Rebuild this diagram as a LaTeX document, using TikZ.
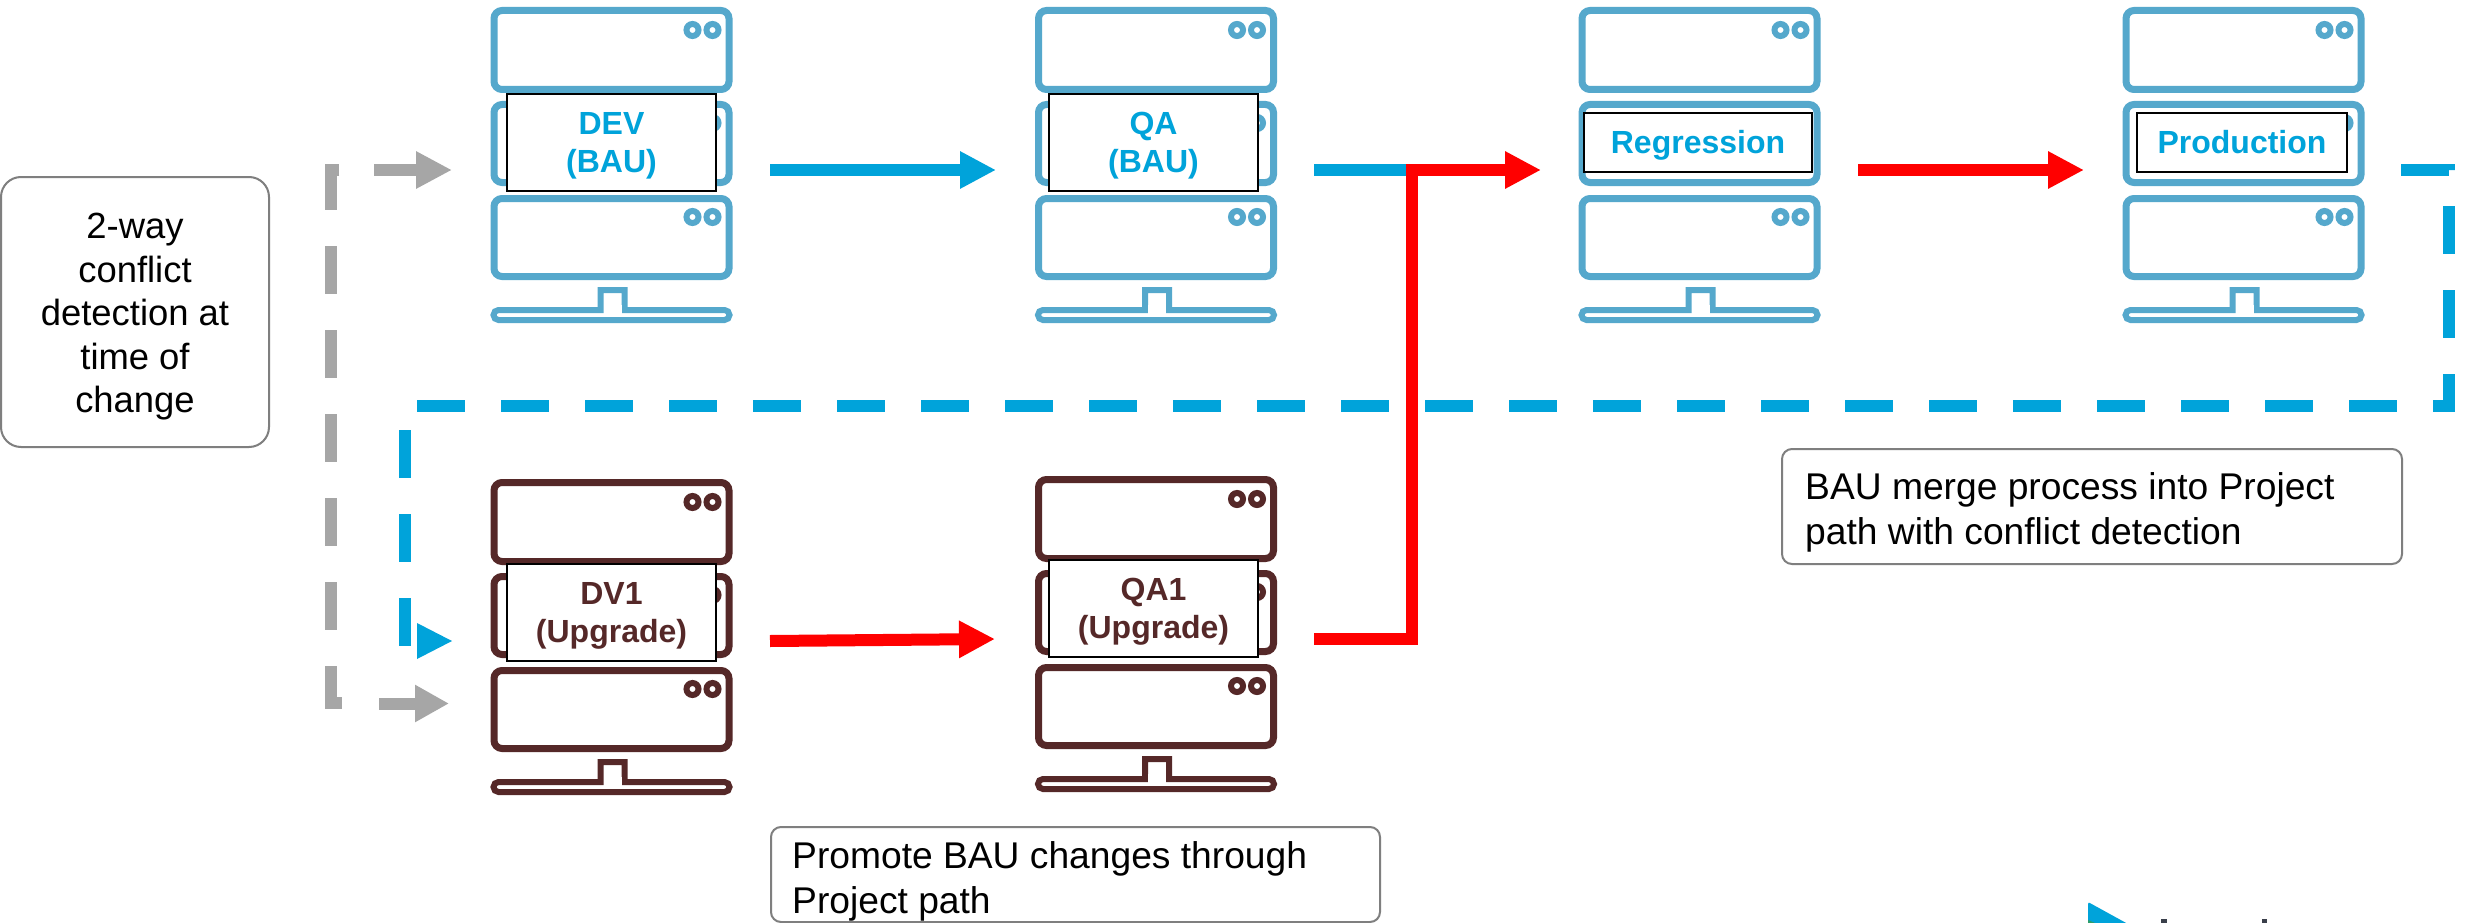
\documentclass[tikz,border=0pt]{standalone}
\usepackage{fontspec}
\setmainfont{Liberation Sans}
\usetikzlibrary{arrows.meta}
\definecolor{rackblue}{HTML}{55A8CC}
\definecolor{rackbrown}{HTML}{552828}
\definecolor{flowblue}{HTML}{00A3DA}
\definecolor{flowgray}{HTML}{A6A6A6}
\definecolor{boxgray}{HTML}{7F7F7F}
\definecolor{logogreen}{HTML}{2E9E6B}
\definecolor{logodark}{HTML}{3A3F4A}
\newcommand{\lift}{\rule{0pt}{28pt}}
\tikzset{
  x=1pt,y=-1pt,
  rackunit/.style={line width=7pt,rounded corners=8pt},
  rackdot/.style={line width=6pt},
  pics/rack/.style={code={
    \draw[#1,rackunit] (3.5,3.5) rectangle (238.5,82.5);
    \draw[#1,rackunit] (3.5,97.5) rectangle (238.5,175.5);
    \draw[#1,rackunit] (3.5,191.5) rectangle (238.5,269.5);
    \draw[#1,rackdot] (202,23) circle[radius=6pt] (222,23) circle[radius=6pt];
    \draw[#1,rackdot] (202,116) circle[radius=6pt] (222,116) circle[radius=6pt];
    \draw[#1,rackdot] (202,210) circle[radius=6pt] (222,210) circle[radius=6pt];
    \draw[#1,line width=6pt,rounded corners=5pt]
      (98,303) [sharp corners] -- (110,303) -- (110,283) -- (134,283) -- (134,303) -- (140,303)
      [rounded corners=5pt] -- (239,303) -- (239,313) -- (3,313) -- (3,303) -- (98,303);
    \fill[white] (113,298) rectangle (131,310);
  }},
  labelbox/.style={draw=black,line width=2pt,fill=white,inner sep=0pt,align=center,
    font=\fontsize{32}{38}\selectfont\bfseries},
  notebox/.style={draw=boxgray,line width=2pt,fill=white,rounded corners=10pt,inner sep=0pt},
  notetext/.style={font=\fontsize{37.2}{45}\selectfont,align=left,anchor=west,inner sep=0pt},
  flow/.style={line width=12pt,-{Triangle[length=36pt,width=35pt]}},
  plainflow/.style={line width=12pt},
  dashflow/.style={line width=12pt,dash pattern=on 48pt off 36pt},
}
\begin{document}
\begin{tikzpicture}
\useasboundingbox (0,0) rectangle (2478,923);
\fill[white] (0,0) rectangle (2478,923);

% racks
\pic at (490.5,7) {rack=rackblue};
\pic at (1035,7) {rack=rackblue};
\pic at (1578.5,7) {rack=rackblue};
\pic at (2122.5,7) {rack=rackblue};
\pic at (490.5,479) {rack=rackbrown};
\pic at (1035,476) {rack=rackbrown};

% labels
\node[labelbox,text=flowblue,minimum width=209pt,minimum height=97pt] (dev) at (611.5,142.5) {\lift DEV\\(BAU)};
\node[labelbox,text=flowblue,minimum width=209pt,minimum height=97pt] (qa) at (1153.5,142.5) {\lift QA\\(BAU)};
\node[labelbox,text=flowblue,minimum width=228pt,minimum height=59pt,text height=22pt,text depth=0pt] (reg) at (1698,142.5) {Regression};
\node[labelbox,text=flowblue,minimum width=210pt,minimum height=59pt,text height=22pt,text depth=0pt] (prod) at (2242,142.5) {Production};
\node[labelbox,text=rackbrown,minimum width=209pt,minimum height=97pt] (dv1) at (611.5,612.5) {\lift DV1\\(Upgrade)};
\node[labelbox,text=rackbrown,minimum width=209pt,minimum height=97pt] (qa1) at (1153.5,608.5) {\lift QA1\\(Upgrade)};

% connector ends
\coordinate (devout) at (770,170);
\coordinate (qain) at (996,170);
\coordinate (qaout) at (1314,170);
\coordinate (join) at (1412,170);
\coordinate (regin) at (1541,170);
\coordinate (regout) at (1858,170);
\coordinate (prodin) at (2084,170);
\coordinate (dv1out) at (770,641);
\coordinate (qa1in) at (995,639);
\coordinate (qa1out) at (1314,639);
\coordinate (corner) at (1412,639);
\coordinate (prodout) at (2401,170);
\coordinate (prodturn) at (2449,170);
\coordinate (backright) at (2449,405.5);
\coordinate (backleft) at (405,405.5);
\coordinate (backend) at (405,647);
\coordinate (graytop) at (339,170);
\coordinate (graytopturn) at (331,170);
\coordinate (graybotturn) at (331,703);
\coordinate (graybot) at (342,703);
\coordinate (graydevfrom) at (374,170);
\coordinate (graydevto) at (452,170);
\coordinate (graydvfrom) at (379,703.5);
\coordinate (graydvto) at (449,703.5);

% gray
\draw[flowgray,dashflow] (graytop) -- (graytopturn) -- (graybotturn) -- (graybot);
\draw[flowgray,flow] (graydevfrom) -- (graydevto);
\draw[flowgray,line width=12pt,-{Triangle[length=34pt,width=35pt]}] (graydvfrom) -- (graydvto);

% blue
\draw[flowblue,flow] (devout) -- (qain);
\draw[flowblue,plainflow] (qaout) -- (join);
\draw[flowblue,dashflow] (prodout) -- (prodturn) -- (backright) -- (backleft) -- (backend);
\fill[flowblue] (417,623) -- (452,641) -- (417,659) -- cycle;

% red
\draw[red,flow] (regout) -- (prodin);
\draw[red,flow] (dv1out) -- (qa1in);
\draw[red,flow] (qa1out) -- (corner) -- (join) -- (regin);

% notes
\node[notebox,rounded corners=20pt,minimum width=268pt,minimum height=270pt] (detect) at (135,312) {};
\node[font=\fontsize{36.4}{43.5}\selectfont,align=center,inner sep=0pt] (detecttext) at (135,317) {2-way\\conflict\\detection at\\time of\\change};
\node[notebox,minimum width=620pt,minimum height=115pt] (merge) at (2092,506.5) {};
\node[notetext] (mergetext) at (1805,512) {BAU merge process into Project\\path with conflict detection};
\node[notebox,minimum width=609pt,minimum height=95pt] (promote) at (1075.5,874.5) {};
\node[notetext] (promotetext) at (792,881) {Promote BAU changes through\\Project path};

% cropped logo
\begin{scope}
\clip (2060,880) rectangle (2360,923);
\fill[flowblue,rounded corners=2pt] (2088,902) -- (2128,924) -- (2088,924) -- cycle;
\fill[logogreen] (2088,920) -- (2095,923) -- (2088,923) -- cycle;
\fill[logodark] (2161,919) rectangle (2167,923);
\fill[logodark] (2262,919) rectangle (2267,923);
\end{scope}
\end{tikzpicture}
\end{document}
